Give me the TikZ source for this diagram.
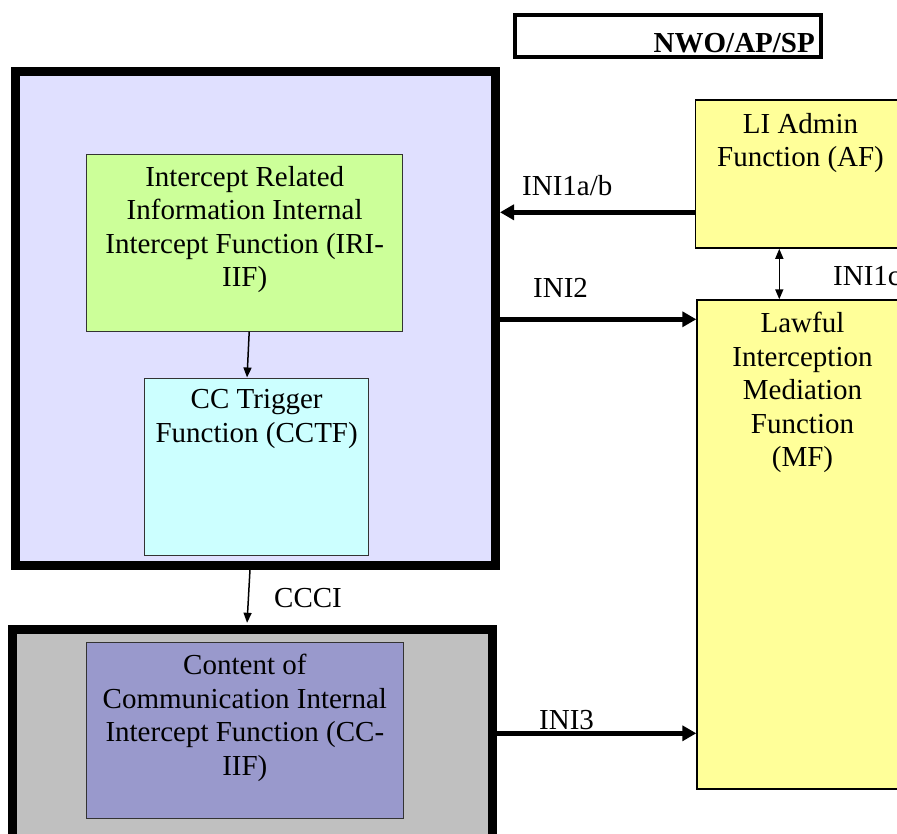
\documentclass[tikz,border=0pt]{standalone}
\usepackage{fontspec}
\setmainfont{Liberation Serif}
\usetikzlibrary{arrows.meta,calc}

\definecolor{lavender}{HTML}{E0E0FF}
\definecolor{irigreen}{HTML}{CCFF99}
\definecolor{trigcyan}{HTML}{CCFFFF}
\definecolor{ccgray}{HTML}{C0C0C0}
\definecolor{ccpurple}{HTML}{9999CC}
\definecolor{liyellow}{HTML}{FFFF99}

\begin{document}
\begin{tikzpicture}[x=1pt,y=-1pt,
  every node/.style={font=\fontsize{29}{33.5}\selectfont},
  frame/.style={draw=black, line width=9pt, anchor=north west, inner sep=0pt},
  fnbox/.style={draw=black!80, line width=1pt, anchor=north west, inner sep=0pt},
  libox/.style={draw=black, line width=1.5pt, fill=liyellow, anchor=north west, inner sep=0pt},
  boxtext/.style={anchor=north, align=center, inner sep=0pt},
  iflabel/.style={anchor=base west, inner sep=0pt},
  bigarrow/.style={line width=4.5pt, -{Triangle[length=14pt,width=15pt]}},
  thinarrow/.style={line width=1.5pt, -{Triangle[length=10pt,width=8pt]}},
  duplex/.style={line width=1.5pt, {Triangle[length=10pt,width=8pt]}-{Triangle[length=10pt,width=8pt]}}]
\useasboundingbox (0,0) rectangle (897,834);
\clip (0,0) rectangle (897,834);

% operator header
\node[draw=black, line width=4pt, anchor=north west, minimum width=306pt, minimum height=42pt, inner sep=0pt] (nwo) at (513,13) {};
\node[anchor=base east, inner sep=0pt, font=\fontsize{29}{33.5}\selectfont\bfseries] (nwolabel) at (815,53) {NWO/AP/SP};

% IRI domain with its internal functions
\node[frame, fill=lavender, minimum width=480pt, minimum height=493pt] (iribox) at (11,67.5) {};
\node[fnbox, fill=irigreen, minimum width=316.4pt, minimum height=176.7pt] (iri) at (86,154) {};
\node[boxtext] (iritext) at ($(iri.north)+(0,12)$) {Intercept Related\\Information Internal\\Intercept Function (IRI-\\IIF)};
\node[fnbox, fill=trigcyan, minimum width=224.3pt, minimum height=177.3pt] (cctf) at (144,377.5) {};
\node[boxtext] (cctftext) at ($(cctf.north)+(0,12)$) {CC Trigger\\Function (CCTF)};

% CC domain
\node[frame, fill=ccgray, minimum width=479.3pt, minimum height=240pt] (ccbox) at (8.2,624.8) {};
\node[fnbox, fill=ccpurple, minimum width=316.7pt, minimum height=176pt] (cciif) at (86,642) {};
\node[boxtext] (cciiftext) at ($(cciif.north)+(0,12)$) {Content of\\Communication Internal\\Intercept Function (CC-\\IIF)};

% administration and mediation functions
\node[libox, minimum width=215pt, minimum height=148pt] (af) at (694.8,99.3) {};
\node[boxtext] (aftext) at (800.5,113) {LI Admin\\Function (AF)};
\node[libox, minimum width=215pt, minimum height=489pt] (mf) at (696.3,299.3) {};
\node[boxtext] (mftext) at (802.5,312) {Lawful\\Interception\\Mediation\\Function\\(MF)};

% connectors
\draw[thinarrow] ($(iri.south)+(4.5,0)$) -- ($(cctf.north)+(-9.6,0)$);
\draw[thinarrow] ($(iribox.south)+(-5.5,0)$) -- ($(ccbox.north)+(-5.3,-2)$);

\coordinate (ini1ab) at ($(af.north west)+(0,113)$);
\draw[bigarrow] (ini1ab) -- (ini1ab -| iribox.east);
\coordinate (ini2) at ($(mf.north west)+(0,20)$);
\draw[bigarrow] (ini2 -| iribox.east) -- (ini2);
\coordinate (ini3) at ($(mf.north west)+(0,434)$);
\draw[bigarrow] (ini3 -| ccbox.east) -- (ini3);
\coordinate (ini1c) at ($(af.south west)+(84.5,0)$);
\draw[duplex] (ini1c) -- (ini1c |- mf.north);

% interface labels
\node[iflabel] (l1ab) at (522,196) {INI1a/b};
\node[iflabel] (l2) at (533,298) {INI2};
\node[iflabel] (l3) at (539,729) {INI3};
\node[iflabel] (lccci) at (274,607) {CCCI};
\node[iflabel] (l1c) at (833,286) {INI1c};
\end{tikzpicture}
\end{document}
